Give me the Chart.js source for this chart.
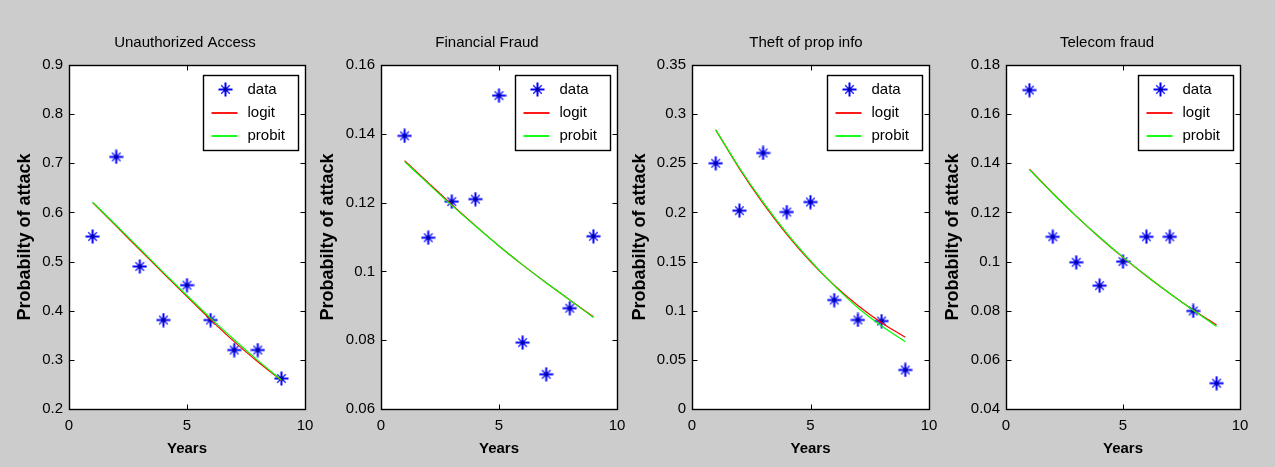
<!DOCTYPE html>
<html>
<head>
<meta charset="utf-8">
<script src="https://cdn.jsdelivr.net/npm/chart.js@4/dist/chart.umd.min.js"></script>
<style>
  html, body { margin: 0; padding: 0; background: #cccccc; width: 1275px; height: 467px; overflow: hidden; position: relative; }
  canvas { position: absolute; top: 0; }
</style>
</head>
<body>
<script>
// ---- data -------------------------------------------------------------
const years = [1, 2, 3, 4, 5, 6, 7, 8, 9];
const xTicks = [0, 5, 10];

const accessData   = [0.551, 0.713, 0.490, 0.381, 0.452, 0.381, 0.320, 0.320, 0.262];
const accessLogit  = [0.620, 0.572, 0.524, 0.476, 0.429, 0.382, 0.337, 0.296, 0.258];
const accessProbit = [0.621, 0.574, 0.526, 0.478, 0.431, 0.385, 0.341, 0.299, 0.259];
const accessTicks  = [0.2, 0.3, 0.4, 0.5, 0.6, 0.7, 0.8, 0.9];

const fraudData   = [0.1394, 0.1098, 0.1203, 0.1210, 0.1511, 0.0793, 0.0701, 0.0893, 0.1102];
const fraudLogit  = [0.1322, 0.1258, 0.1194, 0.1133, 0.1074, 0.1019, 0.0967, 0.0917, 0.0868];
const fraudProbit = [0.1319, 0.1255, 0.1192, 0.1132, 0.1074, 0.1019, 0.0967, 0.0917, 0.0866];
const fraudTicks  = [0.06, 0.08, 0.1, 0.12, 0.14, 0.16];

const theftData   = [0.250, 0.2018, 0.2605, 0.2004, 0.2106, 0.1109, 0.0906, 0.0895, 0.0397];
const theftLogit  = [0.284, 0.2446, 0.2092, 0.1777, 0.1500, 0.1260, 0.1054, 0.0878, 0.0729];
const theftProbit = [0.284, 0.2455, 0.2105, 0.1790, 0.1510, 0.1255, 0.1030, 0.0845, 0.0685];
const theftTicks  = [0, 0.05, 0.1, 0.15, 0.2, 0.25, 0.3, 0.35];

const telecomData   = [0.1698, 0.1101, 0.0997, 0.0902, 0.1000, 0.1101, 0.1101, 0.0799, 0.0505];
const telecomLogit  = [0.1376, 0.1278, 0.1185, 0.1098, 0.1017, 0.0941, 0.0870, 0.0803, 0.0742];
const telecomProbit = [0.1374, 0.1277, 0.1185, 0.1099, 0.1018, 0.0942, 0.0870, 0.0802, 0.0736];
const telecomTicks  = [0.04, 0.06, 0.08, 0.1, 0.12, 0.14, 0.16, 0.18];

const panelTitles = ['Unauthorized Access', 'Financial Fraud', 'Theft of prop info', 'Telecom fraud'];
const seriesNames = ['data', 'logit', 'probit'];
const xTitle = 'Years';
const yTitle = 'Probabilty of attack';

// ---- layout of the four axes boxes (page pixels) -----------------------
const frames = [
  { left: 69,   right: 305,  titleX: 185,  yTitleX: 25 },
  { left: 381,  right: 617,  titleX: 487,  yTitleX: 328 },
  { left: 692,  right: 929,  titleX: 806,  yTitleX: 640 },
  { left: 1006, right: 1240, titleX: 1107, yTitleX: 953 }
];
const PLOT_TOP = 65, PLOT_BOTTOM = 409, PAGE_H = 467, Y_AXIS_W = 69, RIGHT_PAD = 40;

const panels = [
  { title: panelTitles[0], data: accessData,  logit: accessLogit,  probit: accessProbit,  ticks: accessTicks },
  { title: panelTitles[1], data: fraudData,   logit: fraudLogit,   probit: fraudProbit,   ticks: fraudTicks },
  { title: panelTitles[2], data: theftData,   logit: theftLogit,   probit: theftProbit,   ticks: theftTicks },
  { title: panelTitles[3], data: telecomData, logit: telecomLogit, probit: telecomProbit, ticks: telecomTicks }
];

const FONT = '"Liberation Sans", Arial, Helvetica, sans-serif';
const BLUE = '#0000ff', RED = '#ff0000', GREEN = '#00ff00';

// asterisk marker sprite: long '+' arms, shorter 'x' arms, solid centre
function makeAsterisk() {
  const c = document.createElement('canvas');
  c.width = 15; c.height = 15;
  const g = c.getContext('2d');
  g.strokeStyle = BLUE;
  g.lineWidth = 2;
  g.beginPath();
  g.moveTo(7.5, 0.5); g.lineTo(7.5, 14.5);
  g.moveTo(0.5, 7.5); g.lineTo(14.5, 7.5);
  g.stroke();
  g.lineWidth = 1.4;
  g.globalAlpha = 0.85;
  const d = 4.3;
  g.beginPath();
  g.moveTo(7.5 - d, 7.5 - d); g.lineTo(7.5 + d, 7.5 + d);
  g.moveTo(7.5 + d, 7.5 - d); g.lineTo(7.5 - d, 7.5 + d);
  g.stroke();
  g.globalAlpha = 1;
  g.fillStyle = '#0000b0';
  g.beginPath(); g.arc(7.5, 7.5, 2.3, 0, Math.PI * 2); g.fill();
  return c;
}
const asterisk = makeAsterisk();

// white axes background, box frame, inward ticks on all sides, title, legend
const axesDecor = {
  id: 'axesDecor',
  beforeDatasetsDraw(chart) {
    const { ctx, chartArea: a } = chart;
    ctx.save();
    ctx.fillStyle = '#ffffff';
    ctx.fillRect(a.left, a.top, a.right - a.left, a.bottom - a.top);
    ctx.restore();
  },
  afterDraw(chart, args, opts) {
    const { ctx, chartArea: a } = chart;
    const xs = chart.scales.x, ys = chart.scales.y;
    const L = Math.round(a.left) + 0.5, R = Math.round(a.right) + 0.5;
    const T = Math.round(a.top) + 0.5, B = Math.round(a.bottom) + 0.5;
    const tl = 5;
    ctx.save();
    ctx.strokeStyle = '#000000';
    ctx.lineWidth = 1;
    ctx.beginPath();
    ys.ticks.forEach(t => {
      const y = Math.round(ys.getPixelForValue(t.value)) + 0.5;
      ctx.moveTo(L, y); ctx.lineTo(L + tl, y);
      ctx.moveTo(R, y); ctx.lineTo(R - tl, y);
    });
    xs.ticks.forEach(t => {
      const x = Math.round(xs.getPixelForValue(t.value)) + 0.5;
      ctx.moveTo(x, B); ctx.lineTo(x, B - tl);
      ctx.moveTo(x, T); ctx.lineTo(x, T + tl);
    });
    ctx.stroke();
    ctx.lineWidth = 1.4;
    ctx.strokeRect(L, T, R - L, B - T);

    // axes title
    ctx.fillStyle = '#000000';
    ctx.font = '15px ' + FONT;
    ctx.textAlign = 'center';
    ctx.textBaseline = 'middle';
    ctx.fillText(opts.title, opts.titleX, 43);

    // legend box in the upper right corner
    const lw = 95, lh = 75;
    const lx = Math.round(a.right - 7 - lw) + 0.5, ly = Math.round(a.top + 10) + 0.5;
    ctx.fillStyle = '#ffffff';
    ctx.fillRect(lx, ly, lw, lh);
    ctx.lineWidth = 1.4;
    ctx.strokeStyle = '#000000';
    ctx.strokeRect(lx, ly, lw, lh);
    const rows = [14, 37, 60];
    chart.data.datasets.forEach((ds, i) => {
      const y = ly + rows[i];
      if (i === 0) {
        ctx.drawImage(asterisk, lx + 22 - 7.5, y - 7.5);
      } else {
        ctx.strokeStyle = ds.borderColor;
        ctx.lineWidth = 1.8;
        ctx.beginPath();
        ctx.moveTo(lx + 8, Math.round(y));
        ctx.lineTo(lx + 34, Math.round(y));
        ctx.stroke();
      }
      ctx.fillStyle = '#000000';
      ctx.font = '15px ' + FONT;
      ctx.textAlign = 'left';
      ctx.textBaseline = 'middle';
      ctx.fillText(ds.label, lx + 44, y);
    });
    ctx.restore();
  }
};

panels.forEach((p, i) => {
  const f = frames[i];
  const canvasLeft = f.left - Y_AXIS_W;
  const width = f.right - canvasLeft + RIGHT_PAD;
  const cv = document.createElement('canvas');
  cv.width = width; cv.height = PAGE_H;
  cv.style.left = canvasLeft + 'px';
  cv.style.width = width + 'px';
  cv.style.height = PAGE_H + 'px';
  document.body.appendChild(cv);

  const yTitleSize = 18;
  new Chart(cv.getContext('2d'), {
    type: 'line',
    data: {
      datasets: [
        {
          label: seriesNames[0],
          data: years.map((x, k) => ({ x, y: p.data[k] })),
          showLine: false,
          pointStyle: asterisk,
          pointRadius: 7,
          borderColor: BLUE,
          backgroundColor: BLUE,
          order: 3
        },
        {
          label: seriesNames[1],
          data: years.map((x, k) => ({ x, y: p.logit[k] })),
          borderColor: RED,
          borderWidth: 1.2,
          pointRadius: 0,
          cubicInterpolationMode: 'monotone',
          fill: false,
          order: 2
        },
        {
          label: seriesNames[2],
          data: years.map((x, k) => ({ x, y: p.probit[k] })),
          borderColor: GREEN,
          borderWidth: 1.2,
          pointRadius: 0,
          cubicInterpolationMode: 'monotone',
          fill: false,
          order: 1
        }
      ]
    },
    options: {
      responsive: false,
      animation: false,
      devicePixelRatio: 1,
      layout: { padding: { left: 0, top: PLOT_TOP, right: RIGHT_PAD, bottom: 0 } },
      plugins: {
        legend: { display: false },
        title: { display: false },
        tooltip: { enabled: false },
        axesDecor: { title: p.title, titleX: f.titleX - canvasLeft }
      },
      scales: {
        x: {
          type: 'linear',
          min: 0, max: 10,
          afterBuildTicks: s => { s.ticks = xTicks.map(v => ({ value: v })); },
          afterFit: s => { s.height = PAGE_H - PLOT_BOTTOM; },
          grid: { display: false, drawTicks: false },
          border: { display: false },
          ticks: {
            padding: 8, maxRotation: 0, autoSkip: false,
            color: '#000000', font: { family: FONT, size: 15 },
            callback: v => String(v)
          },
          title: {
            display: true, text: xTitle, color: '#000000',
            font: { family: FONT, size: 15, weight: 'bold', lineHeight: 1.2 },
            padding: { top: 0, bottom: 9 }
          }
        },
        y: {
          type: 'linear',
          min: p.ticks[0], max: p.ticks[p.ticks.length - 1],
          afterBuildTicks: s => { s.ticks = p.ticks.map(v => ({ value: v })); },
          afterFit: s => { s.width = Y_AXIS_W; },
          grid: { display: false, drawTicks: false },
          border: { display: false },
          ticks: {
            padding: 6, autoSkip: false,
            color: '#000000', font: { family: FONT, size: 15 },
            callback: v => String(v)
          },
          title: {
            display: true, text: yTitle, color: '#000000',
            font: { family: FONT, size: yTitleSize, weight: 'bold', lineHeight: 1.2 },
            padding: { top: f.yTitleX - canvasLeft - yTitleSize * 0.6, bottom: 0 }
          }
        }
      }
    },
    plugins: [axesDecor]
  });
});
</script>
</body>
</html>
